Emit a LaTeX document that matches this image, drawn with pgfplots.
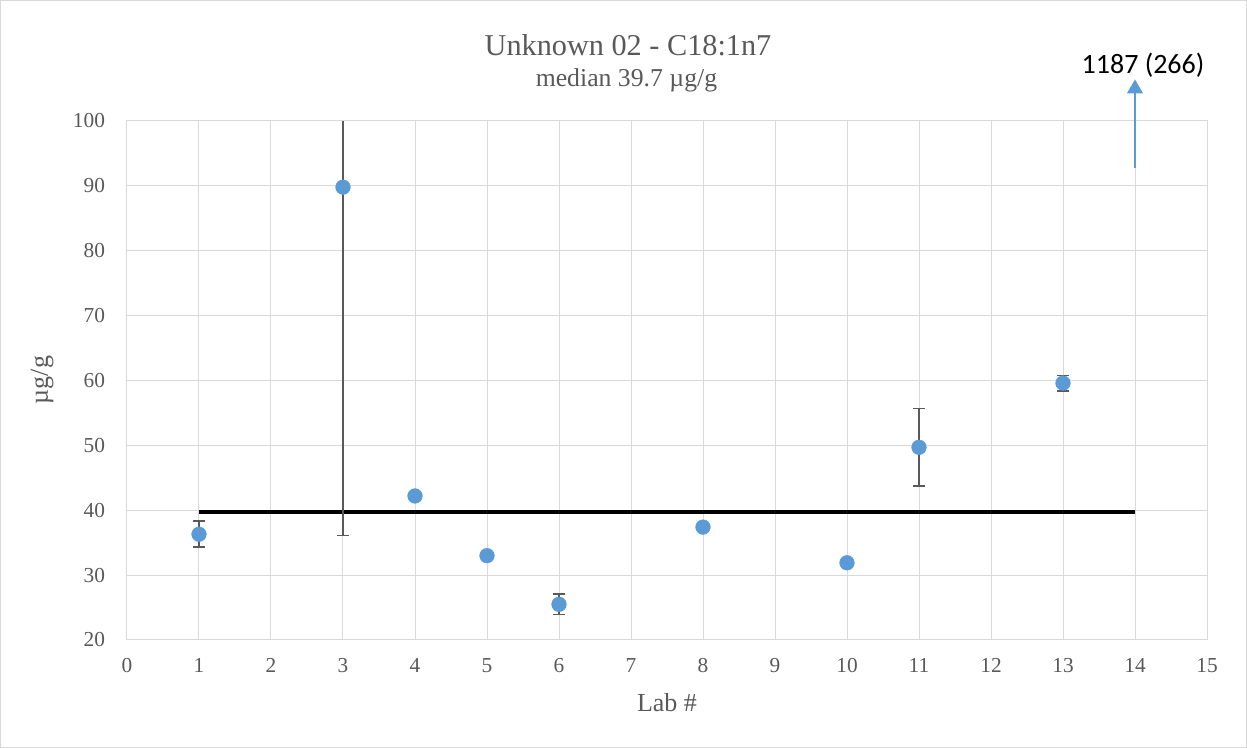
\documentclass[border=0pt]{standalone}
\usepackage{pgfplots}
\pgfplotsset{compat=1.18}
\usepackage{fontspec}
\setmainfont{Liberation Serif}
\newfontfamily\calibri{Carlito}
\usetikzlibrary{arrows.meta}
\definecolor{ptblue}{HTML}{5B9BD5}
\definecolor{gridgray}{HTML}{D9D9D9}
\definecolor{txtgray}{HTML}{595959}
\definecolor{errgray}{HTML}{595959}
\begin{document}
\begin{tikzpicture}
\path[use as bounding box] (-95.25pt,-81pt) rectangle (840pt,480pt);
\draw[gridgray, line width=0.75pt] (-94.9pt,-80.6pt) rectangle (839.6pt,479.6pt);
\begin{axis}[
  at={(0,0)}, anchor=origin,
  scale only axis, width=810pt, height=389.25pt,
  xmin=0, xmax=15, ymin=20, ymax=100,
  xtick={0,...,15}, ytick={20,30,...,100},
  grid=major, major grid style={gridgray, line width=0.75pt},
  axis line style={gridgray, line width=0.75pt},
  major tick length=0pt,
  clip=false,
  /pgf/number format/assume math mode=true,
  tick label style={font=\fontsize{16}{18}\selectfont, text=txtgray},
  xticklabel style={yshift=-10pt},
  yticklabel style={xshift=-13pt},
]
% median line
\addplot[black, line width=3pt, no marks] coordinates {(1,39.7) (14,39.7)};
% lab 3 upper whisker (clipped at 100)
\addplot[errgray, line width=1.2pt, no marks] coordinates {(3,89.8) (3,100)};
% lab 3 lower error
\addplot[only marks, mark=none,
  error bars/.cd, y dir=minus, y explicit,
  error bar style={errgray, line width=1.2pt},
  error mark options={errgray, rotate=90, mark size=4.5pt, line width=1.2pt}]
  coordinates {(3,89.8) -= (0,53.7)};
% points with error bars
\addplot[only marks, mark=*, mark size=5.5pt, mark options={fill=ptblue, draw=ptblue},
  error bars/.cd, y dir=both, y explicit,
  error bar style={errgray, line width=1.2pt},
  error mark options={errgray, rotate=90, mark size=4.5pt, line width=1.2pt}]
  coordinates {
  (1,36.3) +- (0,2.0)
  (3,89.8) +- (0,0)
  (4,42.2) +- (0,0)
  (5,33.0) +- (0,0)
  (6,25.5) +- (0,1.6)
  (8,37.4) +- (0,0)
  (10,31.9) +- (0,0)
  (11,49.7) +- (0,6.0)
  (13,59.6) +- (0,1.2)
  };
% out-of-range lab 14 arrow
\addplot[ptblue, line width=0.8pt, no marks, -{Triangle[length=10.5pt,width=12pt]}] coordinates {(14,92.7) (14,106.4)};
\end{axis}
\node[font=\calibri\fontsize{21}{24}\selectfont, text=black] at (762pt,431pt) {1187 (266)};
\node[font=\fontsize{22.7}{26}\selectfont, text=txtgray] at (375.75pt,446.25pt) {Unknown 02 - C18:1n7};
\node[font=\fontsize{19.3}{22}\selectfont, text=txtgray] at (374.6pt,419.5pt) {median 39.7 µg/g};
\node[font=\fontsize{19.5}{22}\selectfont, text=txtgray, rotate=90] at (-63.75pt,195pt) {µg/g};
\node[font=\fontsize{19.5}{22}\selectfont, text=txtgray] at (405pt,-47.25pt) {Lab \#};
\end{tikzpicture}
\end{document}
